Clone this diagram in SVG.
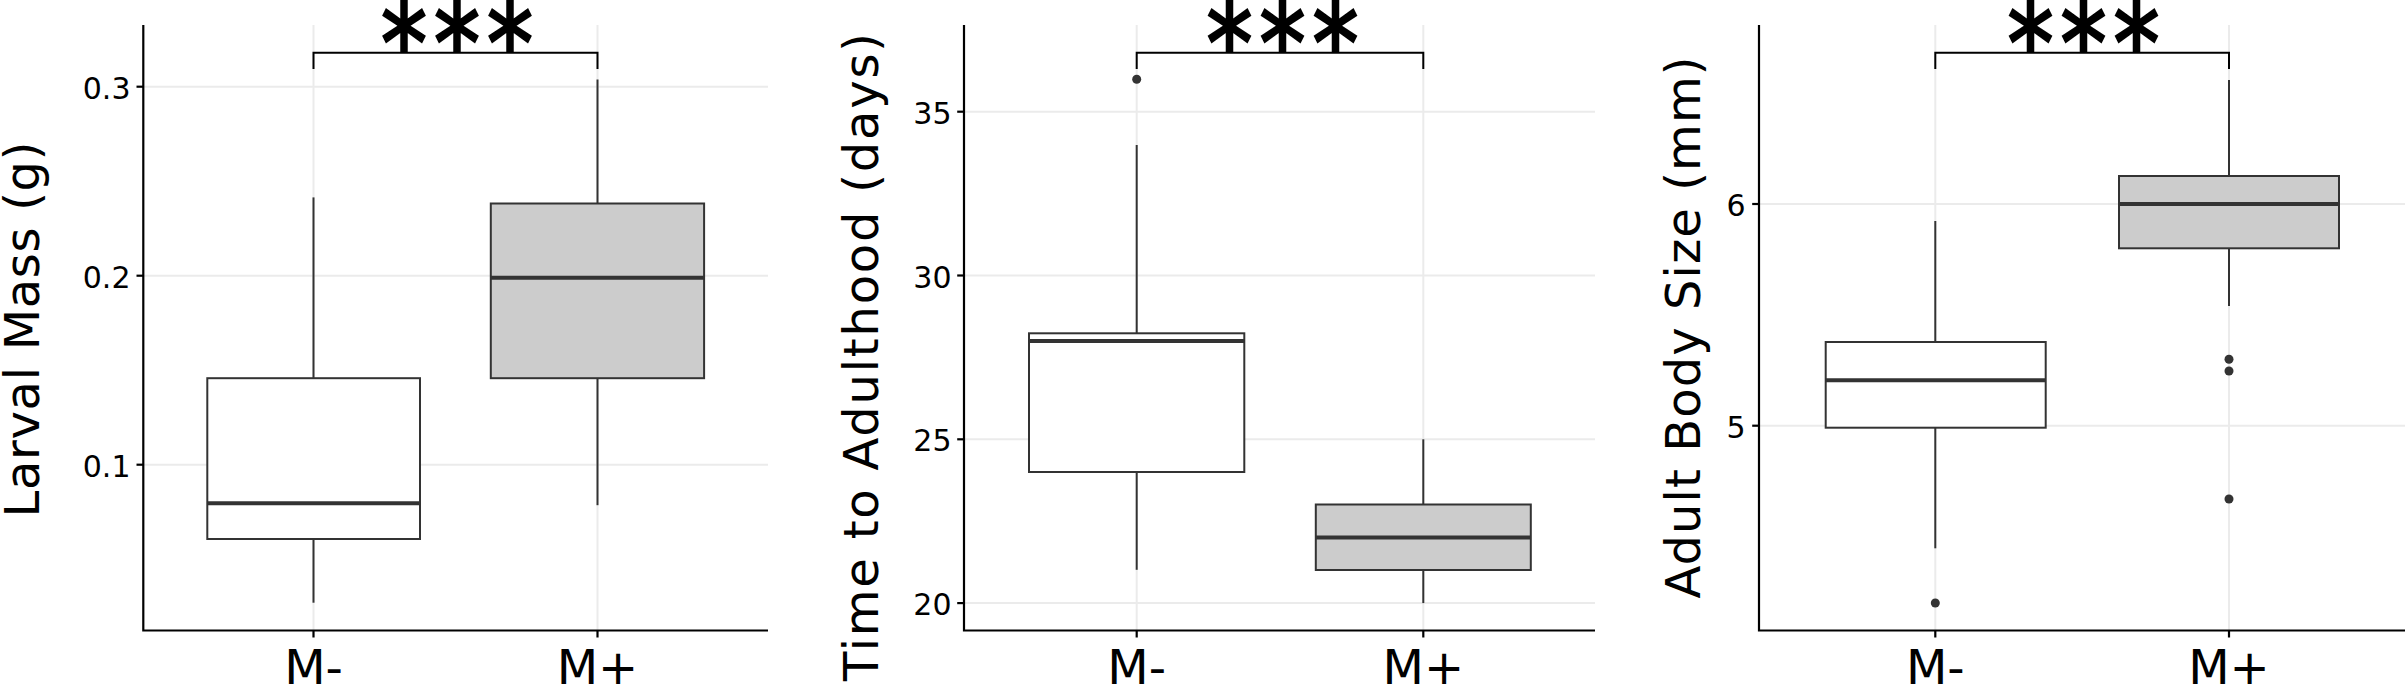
<svg xmlns="http://www.w3.org/2000/svg" width="2405" height="685" viewBox="0 0 2405 685">
<style>
.bg{fill:#fff}
.grid{stroke:#EBEBEB;stroke-width:2;fill:none}
.axis{stroke:#000;stroke-width:2.2;fill:none}
.box{stroke:#333;stroke-width:2}
.minus{fill:#fff}
.plus{fill:#CCCCCC}
.med{stroke:#333;stroke-width:4}
.wh{stroke:#333;stroke-width:2}
.out{fill:#333}
.brk{stroke:#000;stroke-width:2;fill:none}
text{font-family:"DejaVu Sans","Liberation Sans",sans-serif;fill:#000}
.tl{font-size:30px;text-anchor:end}
.xl{font-size:48px;text-anchor:middle}
.yt{font-size:48px;text-anchor:middle}
.sig{font-size:92px;text-anchor:middle;letter-spacing:7px;stroke:#000;stroke-width:2.4}
</style>
<rect class="bg" x="0" y="0" width="2405" height="685"/>

<g id="panel-larval-mass">
  <g class="grid">
    <line x1="143.3" y1="86.7" x2="768" y2="86.7"/>
    <line x1="143.3" y1="275.7" x2="768" y2="275.7"/>
    <line x1="143.3" y1="464.7" x2="768" y2="464.7"/>
    <line x1="313.5" y1="25" x2="313.5" y2="630"/>
    <line x1="597.5" y1="25" x2="597.5" y2="630"/>
  </g>
  <g id="p1-box-mminus">
    <line class="wh" x1="313.5" y1="197.4" x2="313.5" y2="378.2"/>
    <line class="wh" x1="313.5" y1="539" x2="313.5" y2="602.7"/>
    <rect class="box minus" x="207.3" y="378.2" width="212.7" height="160.8"/>
    <line class="med" x1="207.3" y1="503.3" x2="420" y2="503.3"/>
  </g>
  <g id="p1-box-mplus">
    <line class="wh" x1="597.5" y1="79.5" x2="597.5" y2="203.5"/>
    <line class="wh" x1="597.5" y1="378.2" x2="597.5" y2="505.2"/>
    <rect class="box plus" x="490.8" y="203.5" width="213.3" height="174.7"/>
    <line class="med" x1="490.8" y1="277.8" x2="704.1" y2="277.8"/>
  </g>
  <g class="axis">
    <polyline points="143.3,25 143.3,630.5 768,630.5"/>
    <line x1="136.5" y1="86.7" x2="143.3" y2="86.7"/>
    <line x1="136.5" y1="275.7" x2="143.3" y2="275.7"/>
    <line x1="136.5" y1="464.7" x2="143.3" y2="464.7"/>
    <line x1="313.5" y1="630.5" x2="313.5" y2="637.5"/>
    <line x1="597.5" y1="630.5" x2="597.5" y2="637.5"/>
  </g>
  <text class="tl" x="130.5" y="98.7">0.3</text>
  <text class="tl" x="130.5" y="287.7">0.2</text>
  <text class="tl" x="130.5" y="476.7">0.1</text>
  <text class="xl" x="313.5" y="683.5">M-</text>
  <text class="xl" x="597.5" y="683.5">M+</text>
  <text class="yt" transform="translate(38.5,329.5) rotate(-90)" textLength="376" lengthAdjust="spacing">Larval Mass (g)</text>
</g>

<g id="panel-time-to-adulthood">
  <g class="grid">
    <line x1="964" y1="111.7" x2="1595" y2="111.7"/>
    <line x1="964" y1="275.5" x2="1595" y2="275.5"/>
    <line x1="964" y1="439.3" x2="1595" y2="439.3"/>
    <line x1="964" y1="603.1" x2="1595" y2="603.1"/>
    <line x1="1136.7" y1="25" x2="1136.7" y2="630"/>
    <line x1="1423.3" y1="25" x2="1423.3" y2="630"/>
  </g>
  <g id="p2-box-mminus">
    <line class="wh" x1="1136.7" y1="145" x2="1136.7" y2="333.3"/>
    <line class="wh" x1="1136.7" y1="472" x2="1136.7" y2="569.8"/>
    <rect class="box minus" x="1029" y="333.3" width="215.3" height="138.7"/>
    <line class="med" x1="1029" y1="341" x2="1244.3" y2="341"/>
    <circle class="out" cx="1136.7" cy="79.3" r="4.5"/>
  </g>
  <g id="p2-box-mplus">
    <line class="wh" x1="1423.3" y1="439.3" x2="1423.3" y2="504.5"/>
    <line class="wh" x1="1423.3" y1="570" x2="1423.3" y2="603.1"/>
    <rect class="box plus" x="1315.8" y="504.5" width="215" height="65.5"/>
    <line class="med" x1="1315.8" y1="537.5" x2="1530.8" y2="537.5"/>
  </g>
  <g class="axis">
    <polyline points="964,25 964,630.5 1595,630.5"/>
    <line x1="957.2" y1="111.7" x2="964" y2="111.7"/>
    <line x1="957.2" y1="275.5" x2="964" y2="275.5"/>
    <line x1="957.2" y1="439.3" x2="964" y2="439.3"/>
    <line x1="957.2" y1="603.1" x2="964" y2="603.1"/>
    <line x1="1136.7" y1="630.5" x2="1136.7" y2="637.5"/>
    <line x1="1423.3" y1="630.5" x2="1423.3" y2="637.5"/>
  </g>
  <text class="tl" x="951.5" y="123.7">35</text>
  <text class="tl" x="951.5" y="287.5">30</text>
  <text class="tl" x="951.5" y="451.3">25</text>
  <text class="tl" x="951.5" y="615.1">20</text>
  <text class="xl" x="1136.7" y="683.5">M-</text>
  <text class="xl" x="1423.3" y="683.5">M+</text>
  <text class="yt" transform="translate(878,357) rotate(-90)" textLength="648" lengthAdjust="spacing">Time to Adulthood (days)</text>
</g>

<g id="panel-adult-body-size">
  <g class="grid">
    <line x1="1759" y1="204" x2="2405" y2="204"/>
    <line x1="1759" y1="425.7" x2="2405" y2="425.7"/>
    <line x1="1935.3" y1="25" x2="1935.3" y2="630"/>
    <line x1="2229" y1="25" x2="2229" y2="630"/>
  </g>
  <g id="p3-box-mminus">
    <line class="wh" x1="1935.3" y1="221" x2="1935.3" y2="342"/>
    <line class="wh" x1="1935.3" y1="427.7" x2="1935.3" y2="548.3"/>
    <rect class="box minus" x="1825.7" y="342" width="220" height="85.7"/>
    <line class="med" x1="1825.7" y1="380.3" x2="2045.7" y2="380.3"/>
    <circle class="out" cx="1935.3" cy="603" r="4.5"/>
  </g>
  <g id="p3-box-mplus">
    <line class="wh" x1="2229" y1="80" x2="2229" y2="176"/>
    <line class="wh" x1="2229" y1="248.3" x2="2229" y2="306"/>
    <rect class="box plus" x="2119" y="176" width="220" height="72.3"/>
    <line class="med" x1="2119" y1="204" x2="2339" y2="204"/>
    <circle class="out" cx="2229" cy="359.3" r="4.5"/>
    <circle class="out" cx="2229" cy="371" r="4.5"/>
    <circle class="out" cx="2229" cy="499" r="4.5"/>
  </g>
  <g class="axis">
    <polyline points="1759,25 1759,630.5 2405,630.5"/>
    <line x1="1752.2" y1="204" x2="1759" y2="204"/>
    <line x1="1752.2" y1="425.7" x2="1759" y2="425.7"/>
    <line x1="1935.3" y1="630.5" x2="1935.3" y2="637.5"/>
    <line x1="2229" y1="630.5" x2="2229" y2="637.5"/>
  </g>
  <text class="tl" x="1745.5" y="216">6</text>
  <text class="tl" x="1745.5" y="437.7">5</text>
  <text class="xl" x="1935.3" y="683.5">M-</text>
  <text class="xl" x="2229" y="683.5">M+</text>
  <text class="yt" transform="translate(1700,327.5) rotate(-90)" textLength="542" lengthAdjust="spacing">Adult Body Size (mm)</text>
</g>

<g id="connectors">
  <path class="brk" d="M313.5,69 V52.7 H597.5 V69"/>
  <path class="brk" d="M1136.7,69 V52.7 H1423.3 V69"/>
  <path class="brk" d="M1935.3,69 V52.7 H2229 V69"/>
</g>
<g id="significance">
  <text class="sig" transform="translate(457,39.3) scale(1,1.2)" x="3.5" y="36.5">***</text>
  <text class="sig" transform="translate(1282.5,39.3) scale(1,1.2)" x="3.5" y="36.5">***</text>
  <text class="sig" transform="translate(2083.5,39.3) scale(1,1.2)" x="3.5" y="36.5">***</text>
</g>
</svg>
